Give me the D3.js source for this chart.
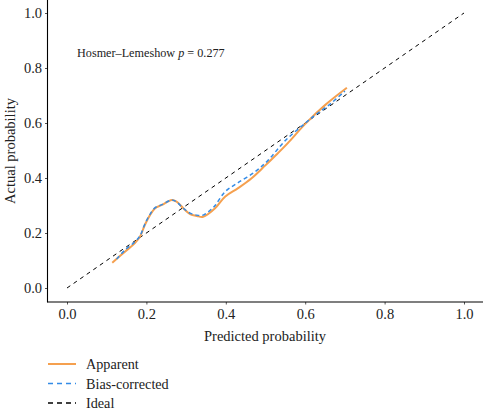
<!DOCTYPE html>
<html>
<head>
<meta charset="utf-8">
<script src="https://cdn.jsdelivr.net/npm/d3@7"></script>
<style>
  body { margin: 0; background: #fff; }
</style>
</head>
<body>
<script>
// calibration curves
let apparentX = [0.114, 0.146, 0.171, 0.184, 0.196, 0.209, 0.222, 0.239, 0.264, 0.276, 0.293, 0.310, 0.327, 0.343, 0.373, 0.398, 0.431, 0.465, 0.499, 0.524, 0.555, 0.599, 0.650, 0.705];
let apparentY = [0.092, 0.132, 0.163, 0.187, 0.229, 0.265, 0.290, 0.302, 0.320, 0.314, 0.290, 0.269, 0.262, 0.259, 0.290, 0.332, 0.363, 0.399, 0.445, 0.480, 0.525, 0.595, 0.665, 0.728];

let biasX = [0.125, 0.146, 0.171, 0.184, 0.196, 0.209, 0.222, 0.239, 0.264, 0.276, 0.293, 0.310, 0.327, 0.343, 0.356, 0.373, 0.398, 0.431, 0.474, 0.507, 0.549, 0.599, 0.625, 0.662, 0.700];
let biasY = [0.105, 0.138, 0.168, 0.190, 0.232, 0.268, 0.292, 0.303, 0.320, 0.313, 0.290, 0.272, 0.265, 0.265, 0.277, 0.300, 0.350, 0.383, 0.423, 0.465, 0.535, 0.598, 0.629, 0.668, 0.716];

let idealX = [0, 1];
let idealY = [0, 1];

let tickValues = [0, 0.2, 0.4, 0.6, 0.8, 1.0];
let legendLabels = ["Apparent", "Bias-corrected", "Ideal"];
let pValue = "0.277";

let width = 483, height = 410;
let axisLeftX = 47.5, axisBottomY = 302;
let serif = "'Liberation Serif', 'Times New Roman', 'DejaVu Serif', serif";
let textColor = "#222";

let x = d3.scaleLinear().domain([0, 1]).range([67, 464]);
let y = d3.scaleLinear().domain([0, 1]).range([288, 13]);

let svg = d3.select("body").append("svg")
    .attr("width", width)
    .attr("height", height)
    .style("font-family", serif);

// axis ticks + labels
let xAxis = svg.append("g")
    .attr("transform", "translate(0," + axisBottomY + ")")
    .call(d3.axisBottom(x).tickValues(tickValues).tickFormat(d3.format(".1f")).tickSize(2.5).tickSizeOuter(0).tickPadding(4))
    .attr("font-family", null);
xAxis.select(".domain").remove();
xAxis.selectAll("line").attr("stroke", "#555");
xAxis.selectAll("text").style("font-family", serif).style("font-size", "14.5px").attr("fill", textColor);

let yAxis = svg.append("g")
    .attr("transform", "translate(" + axisLeftX + ",0)")
    .call(d3.axisLeft(y).tickValues(tickValues).tickFormat(d3.format(".1f")).tickSize(2.5).tickSizeOuter(0).tickPadding(3))
    .attr("font-family", null);
yAxis.select(".domain").remove();
yAxis.selectAll("line").attr("stroke", "#555");
yAxis.selectAll("text").style("font-family", serif).style("font-size", "14.5px").attr("fill", textColor);

// axis lines
svg.append("line")
    .attr("x1", axisLeftX).attr("x2", axisLeftX)
    .attr("y1", 0).attr("y2", axisBottomY + 0.5)
    .attr("stroke", "#000").attr("stroke-width", 1.1);
svg.append("line")
    .attr("x1", axisLeftX).attr("x2", width)
    .attr("y1", axisBottomY).attr("y2", axisBottomY)
    .attr("stroke", "#000").attr("stroke-width", 1.1);

// lines
let line = d3.line()
    .x(d => x(d[0]))
    .y(d => y(d[1]))
    .curve(d3.curveCatmullRom.alpha(0.5));

svg.append("path")
    .datum(d3.zip(idealX, idealY))
    .attr("fill", "none")
    .attr("stroke", "#000")
    .attr("stroke-width", 1)
    .attr("stroke-dasharray", "4,4")
    .attr("d", line);

svg.append("path")
    .datum(d3.zip(apparentX, apparentY))
    .attr("fill", "none")
    .attr("stroke", "#F5A04F")
    .attr("stroke-width", 2)
    .attr("d", line);

svg.append("path")
    .datum(d3.zip(biasX, biasY))
    .attr("fill", "none")
    .attr("stroke", "#338BE6")
    .attr("stroke-width", 1.5)
    .attr("stroke-dasharray", "4,3")
    .attr("d", line);

// annotation
let note = svg.append("text")
    .attr("x", 77)
    .attr("y", 57)
    .attr("fill", textColor)
    .style("font-family", serif)
    .style("font-size", "12.2px");
note.append("tspan").text("Hosmer\u2013Lemeshow ");
note.append("tspan").style("font-style", "italic").text("p");
note.append("tspan").text(" = " + pValue);

// axis titles
svg.append("text")
    .attr("x", 265)
    .attr("y", 341)
    .attr("fill", textColor)
    .style("text-anchor", "middle")
    .style("font-family", serif)
    .style("font-size", "14.5px")
    .text("Predicted probability");

svg.append("text")
    .attr("transform", "translate(15,151) rotate(-90)")
    .attr("fill", textColor)
    .style("text-anchor", "middle")
    .style("font-family", serif)
    .style("font-size", "14.5px")
    .text("Actual probability");

// legend
let legendStyles = [
    {color: "#F5A04F", dash: null, w: 2},
    {color: "#338BE6", dash: "5,4", w: 1.3},
    {color: "#000", dash: "5,4", w: 1.3}
];
let legend = svg.append("g");
legendLabels.forEach(function (lab, i) {
    let cy = 364 + i * 19.5;
    legend.append("line")
        .attr("x1", 48).attr("x2", 76)
        .attr("y1", cy).attr("y2", cy)
        .attr("stroke", legendStyles[i].color)
        .attr("stroke-width", legendStyles[i].w)
        .attr("stroke-dasharray", legendStyles[i].dash);
    legend.append("text")
        .attr("x", 86)
        .attr("y", cy + 5)
        .attr("fill", textColor)
        .style("font-family", serif)
        .style("font-size", "14.2px")
        .text(lab);
});
</script>
</body>
</html>
